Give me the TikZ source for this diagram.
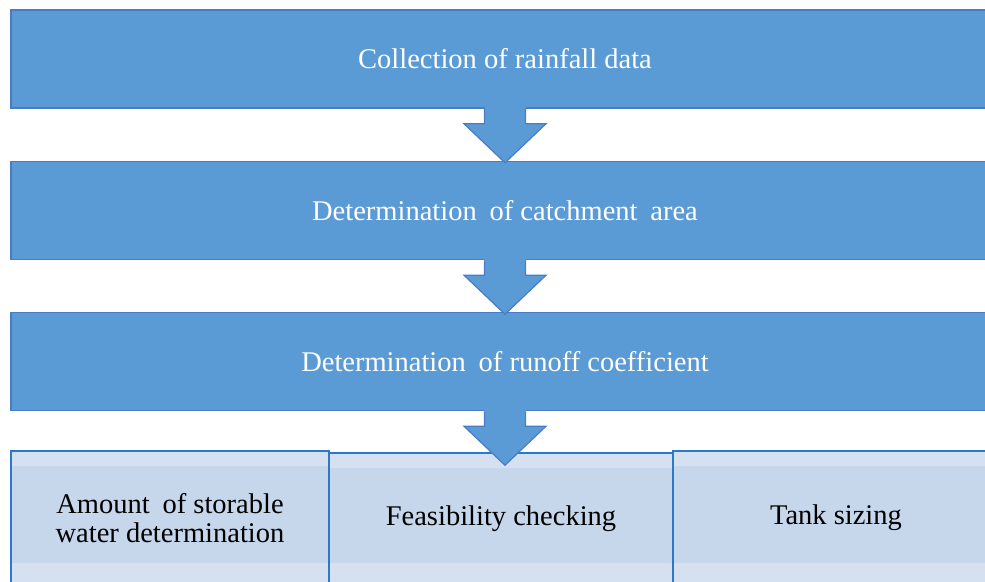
\documentclass[tikz,border=0pt]{standalone}
\usepackage{fontspec}
\setmainfont{Liberation Serif}
\usetikzlibrary{calc}
\definecolor{boxblue}{HTML}{5B9BD5}
\definecolor{boxedge}{HTML}{4A7CC6}
\definecolor{cellfill}{HTML}{C6D6EB}
\definecolor{cellband}{HTML}{D5E1F1}
\definecolor{celledge}{HTML}{2A7AC9}
\newcommand*{\shw}{20.5} % half shaft width
\newcommand*{\hdw}{41}   % half head width
\newcommand*{\shl}{15}   % shaft length
\newcommand*{\hdl}{39}   % head length
\newcommand*{\gap}{\hspace{0.2em}} % extra word gap
% block arrow hanging below a stage box
\newcommand*{\blockarrow}[1]{%
    \fill [boxblue] ($(#1.south)+(-\shw,-2)$) -- ++(0,\shl+2) -- ++(\shw-\hdw,0) -- ++(\hdw,\hdl) -- ++(\hdw,-\hdl) -- ++(\shw-\hdw,0) -- ++(0,-\shl-2) -- cycle;
    \draw [boxedge, line width=1.2, line join=miter] ($(#1.south)+(-\shw,0)$) -- ++(0,\shl) -- ++(\shw-\hdw,0) -- ++(\hdw,\hdl) -- ++(\hdw,-\hdl) -- ++(\shw-\hdw,0) -- ++(0,-\shl);
}

\begin{document}
\begin{tikzpicture}[x=1pt, y=-1pt,
    stage/.style={draw=boxedge, line width=1.5, fill=boxblue, text=white, minimum width=988, minimum height=98, inner sep=0, font=\fontsize{28.5}{30}\selectfont},
    cell/.style={draw=celledge, line width=2, fill=cellfill, minimum height=134, inner sep=0, align=center, font=\fontsize{28.5}{29}\selectfont,
        path picture={
            \fill [cellband] (path picture bounding box.north west) rectangle ([yshift=-15pt]path picture bounding box.north east);
            \fill [cellband] ([yshift=22pt]path picture bounding box.south west) rectangle (path picture bounding box.south east);
        }}]
    \path [use as bounding box] (0,0) rectangle (985,581);
    \clip (0,0) rectangle (985,581);

    \node [stage] (rain)   at (505, 59.0) {Collection of rainfall data};
    \node [stage] (area)   at (505,210.5) {Determination\gap{} of catchment\gap{} area};
    \node [stage] (runoff) at (505,361.5) {Determination\gap{} of runoff coefficient};

    \node [cell, minimum width=318] (storable) at (170,518) {Amount\gap{} of storable\\water determination};
    \node [cell, minimum width=344, minimum height=132] (feasible) at (501,519) {Feasibility checking};
    \node [cell, minimum width=326] (tank) at (836,518) {Tank sizing};

    \blockarrow{rain}
    \blockarrow{area}
    \blockarrow{runoff}
\end{tikzpicture}
\end{document}
